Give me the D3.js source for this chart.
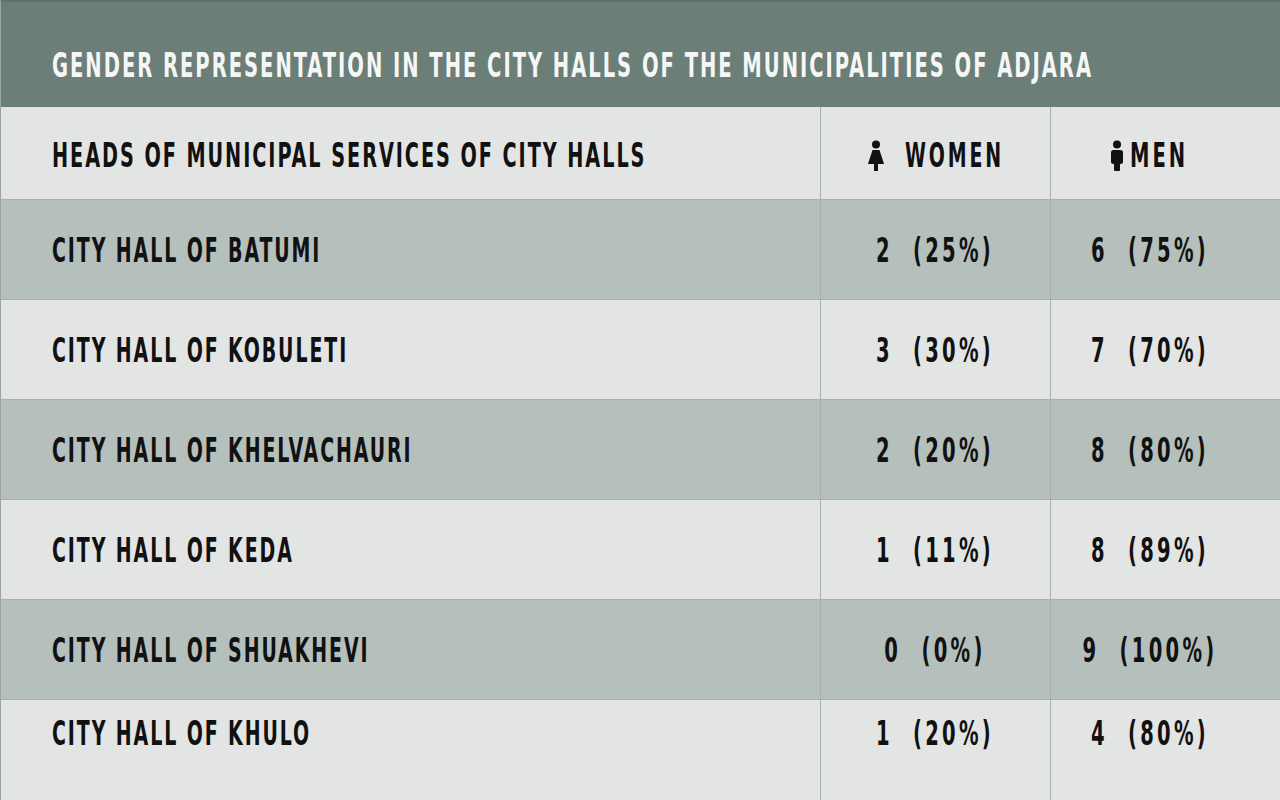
<!DOCTYPE html>
<html>
<head>
<meta charset="utf-8">
<script src="https://cdn.jsdelivr.net/npm/d3@7"></script>
<style>
  html, body { margin: 0; padding: 0; background: #e3e5e4; }
  svg { display: block; }
  text { font-family: "DejaVu Sans Condensed", "Liberation Sans Narrow", sans-serif; font-weight: bold; }
  text.value { white-space: pre; }
</style>
</head>
<body>
<svg></svg>
<script>
// chart size
const width = 1280;
const height = 800;

// data
const title = "GENDER REPRESENTATION IN THE CITY HALLS OF THE MUNICIPALITIES OF ADJARA";
const headLabel = "HEADS OF MUNICIPAL SERVICES OF CITY HALLS";
const columns = ["label", "women", "men"];
const columnTitles = ["", "WOMEN", "MEN"];
const halls = ["CITY HALL OF BATUMI", "CITY HALL OF KOBULETI", "CITY HALL OF KHELVACHAURI",
  "CITY HALL OF KEDA", "CITY HALL OF SHUAKHEVI", "CITY HALL OF KHULO"];
const womenCount = [2, 3, 2, 1, 0, 1];
const womenPct = [25, 30, 20, 11, 0, 20];
const menCount = [6, 7, 8, 8, 9, 4];
const menPct = [75, 70, 80, 89, 100, 80];

const rows = halls.map((h, i) => ({
  hall: h,
  women: `${womenCount[i]}  (${womenPct[i]}%)`,
  men: `${menCount[i]}  (${menPct[i]}%)`
}));

// colours
const bandColor = "#6b7f78";
const lightRow = "#e3e5e4";
const darkRow = "#b5bfbb";
const lineColor = "#a9b0ad";

const svg = d3.select("svg")
  .attr("width", width)
  .attr("height", height);

// condensed look: squeeze the fallback font horizontally
const titleTarget = 1041;
let squeeze = 1;
function fit(sel, k = 1) {
  sel.each(function () {
    const w = this.getComputedTextLength();
    d3.select(this)
      .attr("textLength", w * squeeze * k)
      .attr("lengthAdjust", "spacingAndGlyphs");
  });
}

// scales
const titleH = 107;
const headH = 92;
const y = d3.scaleBand()
  .domain(halls)
  .range([titleH + headH, titleH + headH + 100 * halls.length]);

const colLeft = d3.scaleOrdinal().domain(columns).range([0, 820, 1050]);
const colCenter = d3.scaleOrdinal().domain(columns).range([0, 935, 1150]);

// title band
svg.append("rect")
  .attr("x", 0).attr("y", 0)
  .attr("width", width).attr("height", titleH)
  .attr("fill", bandColor);
svg.append("rect")
  .attr("x", 0).attr("y", 0)
  .attr("width", width).attr("height", 2)
  .attr("fill", "#5e716a");

const titleText = svg.append("text")
  .attr("x", 52).attr("y", 77)
  .attr("fill", "#f5f7f6")
  .attr("font-size", 33)
  .attr("letter-spacing", 3)
  .text(title);
squeeze = titleTarget / titleText.node().getComputedTextLength();
fit(titleText);

// header row
svg.append("rect")
  .attr("x", 0).attr("y", titleH)
  .attr("width", width).attr("height", headH)
  .attr("fill", lightRow);

svg.append("text")
  .attr("x", 52).attr("y", 167)
  .attr("fill", "#111")
  .attr("font-size", 33)
  .attr("letter-spacing", 3)
  .text(headLabel)
  .call(fit, 0.985);

// column titles
svg.append("text")
  .attr("x", 905).attr("y", 167)
  .attr("fill", "#111")
  .attr("font-size", 33)
  .attr("letter-spacing", 4.5)
  .text(columnTitles[1])
  .call(fit, 0.97);
svg.append("text")
  .attr("x", 1130).attr("y", 167)
  .attr("fill", "#111")
  .attr("font-size", 33)
  .attr("letter-spacing", 4.5)
  .text(columnTitles[2])
  .call(fit);

// woman icon
const wi = svg.append("g").attr("transform", "translate(876,141)").attr("fill", "#111");
wi.append("circle").attr("cx", 0).attr("cy", 3.5).attr("r", 4);
wi.append("path").attr("d", "M-3.5,9 L3.5,9 L8,23 L-8,23 Z");
wi.append("rect").attr("x", -2).attr("y", 22).attr("width", 4).attr("height", 8);

// man icon
const mi = svg.append("g").attr("transform", "translate(1117,141)").attr("fill", "#111");
mi.append("circle").attr("cx", 0).attr("cy", 3.5).attr("r", 4);
mi.append("rect").attr("x", -6).attr("y", 9).attr("width", 12).attr("height", 14).attr("rx", 2.5);
mi.append("rect").attr("x", -3).attr("y", 20).attr("width", 6).attr("height", 10).attr("rx", 1);

// body rows
const row = svg.selectAll("g.row")
  .data(rows)
  .enter()
  .append("g")
  .attr("class", "row")
  .attr("transform", d => `translate(0,${y(d.hall)})`);

row.append("rect")
  .attr("x", 0).attr("y", 0)
  .attr("width", width).attr("height", y.bandwidth())
  .attr("fill", (d, i) => i % 2 === 0 ? darkRow : lightRow);

row.append("line")
  .attr("x1", 0).attr("x2", width)
  .attr("y1", 0.5).attr("y2", 0.5)
  .attr("stroke", lineColor)
  .attr("stroke-width", 1);

// last row text sits higher (image is cropped)
const textY = (d, i) => (i === rows.length - 1 ? 46 : 63);

row.append("text")
  .attr("x", 52)
  .attr("y", textY)
  .attr("fill", "#111")
  .attr("font-size", 33)
  .attr("letter-spacing", 3)
  .text(d => d.hall)
  .call(fit, 0.97);

["women", "men"].forEach(c => {
  row.append("text")
    .attr("class", "value")
    .attr("x", colCenter(c))
    .attr("y", textY)
    .attr("text-anchor", "middle")
    .attr("fill", "#111")
    .attr("font-size", 33)
    .attr("letter-spacing", 5)
    .text(d => d[c])
    .call(fit);
});

// column dividers
svg.selectAll("line.col")
  .data(columns.slice(1))
  .enter()
  .append("line")
  .attr("class", "col")
  .attr("x1", d => colLeft(d) + 0.5).attr("x2", d => colLeft(d) + 0.5)
  .attr("y1", titleH).attr("y2", height)
  .attr("stroke", lineColor)
  .attr("stroke-width", 1);

// left edge
svg.append("line")
  .attr("x1", 0.5).attr("x2", 0.5)
  .attr("y1", 0).attr("y2", height)
  .attr("stroke", "#9aa3a0");
</script>
</body>
</html>
